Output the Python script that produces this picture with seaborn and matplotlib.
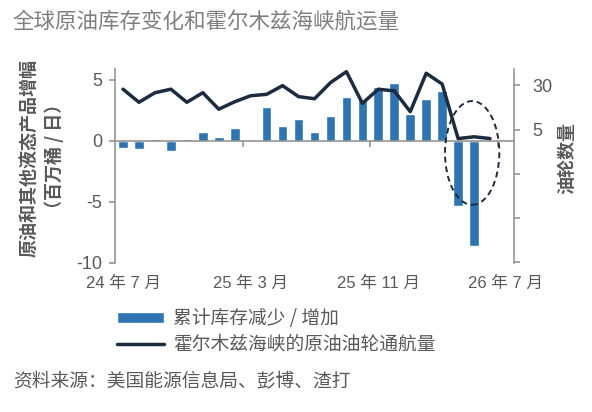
"""
全球原油库存变化和霍尔木兹海峡航运量 — bars (stock change) + line (tanker transits)
"""

import numpy as np
import pandas as pd
import matplotlib
matplotlib.use("Agg")
import matplotlib.pyplot as plt
from matplotlib.patches import Ellipse
import seaborn as sns

# ── Data ─────────────────────────────────────────────────────────────────────
months = pd.period_range("2024-07", "2026-07", freq="M").strftime("%Y-%m").tolist()
tick_pos = [0, 8, 16, 24]
tick_labels = ["24 年 7 月", "25 年 3 月", "25 年 11 月", "26 年 7 月"]

# cumulative stock draw / build, mb/d (2024-07 .. 2026-05)
stock_change = [-0.55, -0.65, 0.2, -0.8, 0.15, 0.7, 0.33, 1.07, 0.08, 2.76,
                1.2, 1.78, 0.74, 2.08, 3.58, 3.36, 4.4, 4.73, 2.21, 3.42,
                4.12, -5.3, -8.6]
# crude tanker transits through Hormuz (2024-07 .. 2026-06)
tanker_count = [27.9, 20.5, 25.9, 27.9, 20.5, 25.9, 16.6, 20.8, 24.2, 25.0,
                29.9, 23.7, 22.5, 31.6, 37.8, 19.9, 27.9, 26.9, 15.2, 36.9,
                30.8, 0.0, 1.0, 0.0]

left_ticks = [-10, -5, 0, 5]
right_ticks = [30, 5, -20, -45, -70]
right_tick_labels = ["30", "5", "", "", ""]

BAR_COLOR = "#2E74B0"
LINE_COLOR = "#1C2B3D"
GREY = "#8C8C8C"
TEXT = "#595959"

sns.set_theme(style="white")
plt.rcParams["font.family"] = ["Liberation Sans", "Noto Sans CJK SC", "DejaVu Sans"]
plt.rcParams["axes.unicode_minus"] = False
CJK = ["Noto Sans CJK SC", "DejaVu Sans"]

fig = plt.figure(figsize=(5.92, 4.12), dpi=100)
ax = fig.add_axes([0.1943, 0.3617, 0.6739, 0.4708])
ax2 = ax.twinx()

# ── Bars ─────────────────────────────────────────────────────────────────────
bar_df = pd.DataFrame({"month": months[:len(stock_change)], "change": stock_change})
sns.barplot(data=bar_df, x="month", y="change", order=months, color=BAR_COLOR,
            saturation=1, width=0.61, ax=ax)

# ── Line ─────────────────────────────────────────────────────────────────────
line_df = pd.DataFrame({"pos": np.arange(len(tanker_count)), "count": tanker_count})
sns.lineplot(data=line_df, x="pos", y="count", color=LINE_COLOR, lw=2.5, ax=ax2)

ax.set_xlim(-0.5, 24.5)
ax.set_ylim(-10, 5.9)
ax2.set_ylim(-70.3, 39.3)

# dashed ellipse round the last months
ax.add_patch(Ellipse((21.88, -0.98), 3.4, 8.5, fill=False, edgecolor=LINE_COLOR,
                     lw=1.4, ls=(0, (3, 2)), zorder=5, clip_on=False))

# ── Axes styling ─────────────────────────────────────────────────────────────
ax.set_xlabel("")
ax.set_ylabel("")
ax2.set_xlabel("")
ax2.set_ylabel("")

for a in (ax, ax2):
    a.spines["top"].set_visible(False)
    for s in a.spines.values():
        s.set_color(GREY)
        s.set_linewidth(1.1)
ax.spines["right"].set_visible(False)
ax2.spines["left"].set_visible(False)
ax2.spines["bottom"].set_visible(False)
ax.spines["bottom"].set_position(("data", 0))

ax.set_xticks(tick_pos, labels=tick_labels)
ax.set_xticks([7.5, 15.5, 23.5], minor=True)
ax.tick_params(axis="x", which="major", length=0, pad=97, labelsize=12, labelcolor=TEXT)
ax.tick_params(axis="x", which="minor", bottom=True, direction="out", length=4,
               width=1.1, color=GREY)

ax.set_yticks(left_ticks)
ax.tick_params(axis="y", left=True, direction="out", length=4, width=1.1, color=GREY,
               labelsize=13, labelcolor=TEXT, pad=5)
ax2.set_yticks(right_ticks, labels=right_tick_labels)
ax2.tick_params(axis="y", right=True, direction="out", length=4, width=1.1, color=GREY,
                labelsize=13, labelcolor=TEXT, pad=9)

# ── Texts ────────────────────────────────────────────────────────────────────
fig.text(12 / 592, 1 - 22 / 412, "全球原油库存变化和霍尔木兹海峡航运量",
         family=CJK, fontsize=15.5, color="#7F7F7F", va="center", ha="left")
fig.text(30 / 592, 1 - 158 / 412, "原油和其他液态产品增幅", family=CJK, fontsize=13,
         fontweight="bold", color=TEXT, rotation=90, va="center", ha="center")
fig.text(54 / 592, 1 - 156 / 412, "（百万桶 / 日）", family=CJK, fontsize=13,
         fontweight="bold", color=TEXT, rotation=90, va="center", ha="center")
fig.text(567 / 592, 1 - 158 / 412, "油轮数量", family=CJK, fontsize=13,
         fontweight="bold", color=TEXT, rotation=90, va="center", ha="center")
fig.text(13 / 592, 1 - 382 / 412, "资料来源：美国能源信息局、彭博、渣打",
         family=CJK, fontsize=13.5, color=TEXT, va="center", ha="left")

handles = [ax.containers[0], ax2.get_lines()[0]]
leg = fig.legend(handles, ["累计库存减少 / 增加", "霍尔木兹海峡的原油油轮通航量"],
                 loc="upper left", bbox_to_anchor=(117 / 592, 1 - 308 / 412),
                 frameon=False, prop={"family": CJK, "size": 13.5},
                 handlelength=2.5, handleheight=0.55, handletextpad=0.5,
                 labelspacing=0.25, borderpad=0, borderaxespad=0)
for t in leg.get_texts():
    t.set_color(TEXT)

fig.savefig("out.png", dpi=100)
